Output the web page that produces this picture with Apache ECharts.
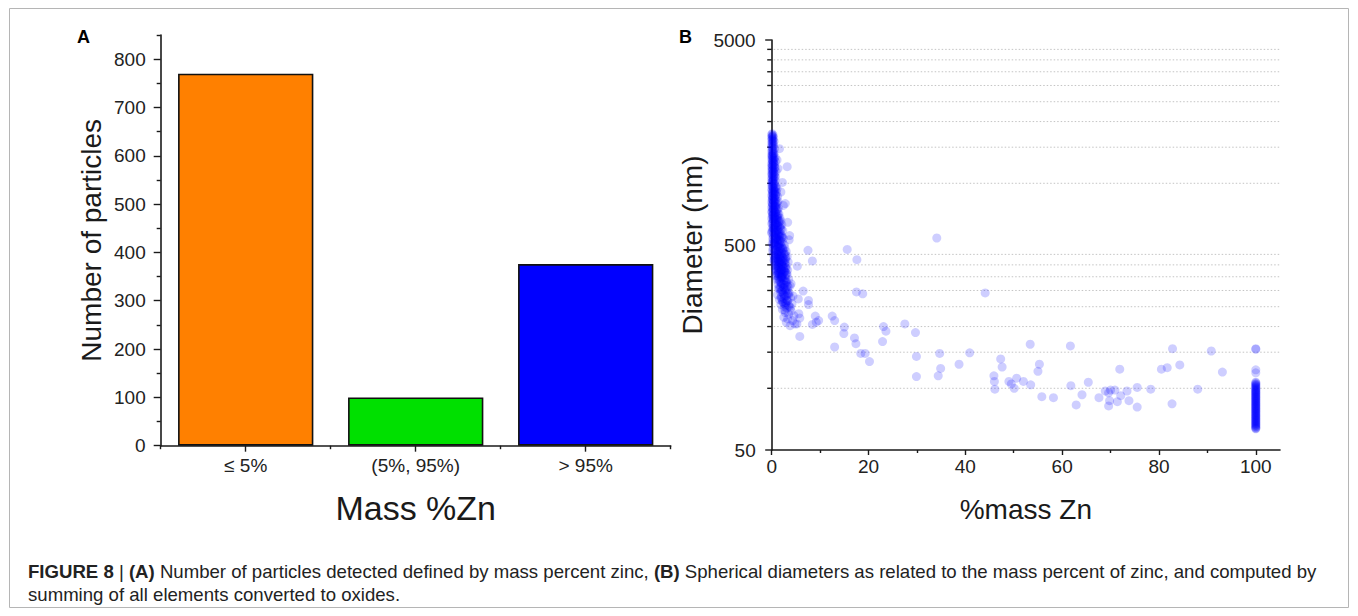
<!DOCTYPE html>
<html><head><meta charset="utf-8">
<script src="https://cdn.jsdelivr.net/npm/echarts@6/dist/echarts.min.js"></script>
<style>html,body{margin:0;padding:0;background:#fff}#c{width:1358px;height:616px}</style>
</head><body><div id="c"></div>
<script>
// ---------- data ----------
const massCategories = ['≤ 5%', '(5%, 95%)', '> 95%'];
const particleCounts = [770, 100, 376];
const countTicksMajor = [0, 100, 200, 300, 400, 500, 600, 700, 800];
const countTicksMinor = [50, 150, 250, 350, 450, 550, 650, 750, 850];
const zincTicksMajor = [0, 20, 40, 60, 80, 100];
const zincTicksMinor = [10, 30, 50, 70, 90];
const diamTicksMajor = [50, 500, 5000];
const diamTicksMinor = [100, 150, 200, 250, 300, 350, 400, 450, 1000, 1500, 2000, 2500, 3000, 3500, 4000, 4500];

// particles with <= 5 % Zn  [mass % Zn, diameter nm]
const lowZnPoints = [
[0.1,1745],[0.0,1728],[0.3,1716],[0.1,1702],[0.2,1690],[0.0,1676],[0.4,1664],[0.1,1650],[0.2,1637],[0.0,1622],[0.3,1610],[0.5,1598],[0.1,1585],[0.2,1570],[0.0,1556],[0.4,1543],[0.1,1530],[0.3,1515],[0.0,1500],[0.2,1486],[0.6,1472],[0.1,1458],[0.3,1444],[0.0,1430],[0.2,1416],[0.5,1402],
[0.1,1390],[0.4,1378],[0.0,1366],[0.2,1354],[0.7,1343],[0.1,1331],[0.3,1320],[0.0,1308],[0.5,1297],[0.2,1286],[0.8,1275],[0.1,1264],[0.4,1253],[0.0,1242],[0.6,1232],[0.2,1221],[0.3,1211],[0.0,1200],[0.7,1190],[0.1,1180],[0.5,1170],[0.2,1160],[0.0,1150],[0.9,1140],[0.3,1131],[0.1,1121],[0.6,1112],[0.0,1102],[0.4,1093],[0.2,1084],[0.8,1075],[0.1,1066],[0.5,1057],[0.0,1048],[0.3,1039],[0.7,1030],[0.2,1021],[0.0,1012],[0.4,1004],
[0.3,1395],[0.1,1360],[0.5,1326],[0.2,1292],[0.4,1259],[0.1,1226],[0.6,1195],[0.2,1165],[0.4,1136],[0.1,1108],[0.6,1080],[0.3,1052],[0.2,1026],
[0.1,996],[0.6,988],[0.3,980],[0.0,972],[0.9,964],[0.2,956],[0.5,948],[1.1,941],[0.0,933],[0.4,926],[0.7,918],[0.2,911],[1.0,904],[0.1,897],[0.5,890],[0.3,883],[0.8,876],[0.0,869],[1.2,862],[0.4,856],[0.2,849],[0.6,843],[0.9,836],[0.1,830],[0.3,824],[1.3,818],[0.5,812],[0.0,806],[0.7,800],[0.2,794],[1.0,788],[0.4,782],[0.1,777],[0.8,771],[0.6,766],[0.0,760],[1.4,755],[0.3,750],[0.9,744],[0.2,739],[0.5,734],[1.1,729],[0.0,724],[0.7,719],[0.4,714],[1.5,709],[0.2,704],
[0.5,995],[0.2,967],[0.8,952],[0.4,938],[0.1,921],[0.6,907],[0.3,893],[0.9,879],[0.2,866],[0.5,852],[0.1,839],[0.7,827],[0.4,815],[1.1,803],[0.2,791],[0.6,779],[0.9,768],[0.3,757],[1.2,747],[0.5,737],[0.1,727],[0.8,717],[1.3,707],
[0.9,699],[0.1,695],[1.3,690],[0.5,686],[0.3,681],[1.7,677],[0.0,673],[0.8,669],[1.1,665],[0.4,660],[1.9,656],[0.2,652],[0.6,648],[1.4,644],[1.0,640],[0.0,636],[0.7,632],[2.1,628],[0.3,625],[1.2,621],[0.5,617],[1.6,613],[0.9,610],[0.1,606],[1.8,602],[0.4,599],[1.3,595],[0.7,592],[2.3,588],[0.2,585],[1.0,581],[1.5,578],[0.6,575],[0.0,571],[1.9,568],[0.8,565],[1.2,561],[0.3,558],[2.0,555],[1.6,552],[0.5,549],[1.1,546],[0.9,542],[2.4,539],[0.2,536],[1.4,533],[0.7,530],[1.8,527],[0.4,524],[1.0,521],[2.2,518],[0.6,515],[1.3,512],[0.1,509],[1.7,507],[0.9,504],[2.6,501],
[0.3,697],[1.0,683],[0.6,671],[1.5,659],[0.2,641],[0.9,627],[1.8,619],[0.5,604],[1.2,589],[0.0,580],[1.6,566],[0.8,553],[2.0,544],[0.4,540],[1.1,528],[1.9,515],[0.3,506],[1.4,502],
[0.6,694],[1.2,679],[0.3,666],[1.6,650],[0.8,637],[1.3,623],[0.4,611],[2.0,597],[1.0,586],[0.5,573],[1.4,560],[2.2,548],[0.9,537],[1.7,524],[0.6,511],
[0.4,498],[1.5,495],[2.0,492],[0.8,490],[1.2,487],[2.7,484],[0.3,481],[1.8,479],[1.0,476],[2.3,473],[0.6,471],[1.5,468],[3.0,465],[1.1,463],[0.5,460],[2.1,458],[1.7,455],[0.9,453],[2.6,450],[1.3,448],[0.4,445],[2.0,443],[3.2,440],[1.0,438],[1.6,436],[0.7,433],[2.4,431],[1.2,429],[2.9,426],[0.5,424],[1.9,422],[1.4,420],[2.2,417],[0.9,415],[3.4,413],[1.7,411],[0.6,409],[2.6,407],[1.1,405],[2.0,403],[1.5,400],[3.0,398],[0.8,396],[2.3,394],[1.3,392],[1.9,390],[2.8,388],[0.7,386],[1.6,384],[2.5,382],[1.0,380],[3.3,378],[2.1,376],[1.4,374],[2.7,372],[0.9,370],[1.8,368],[2.4,366],[3.1,364],[1.2,362],[2.0,360],[1.6,358],[2.9,356],[0.8,354],[2.2,352],
[0.9,497],[1.7,486],[2.4,478],[0.2,469],[1.3,461],[2.8,452],[0.8,446],[1.8,441],[2.2,434],[1.1,427],[2.7,421],[0.5,418],[1.6,412],[2.1,404],[1.0,399],[2.5,391],[1.4,387],[2.0,379],[0.9,375],[2.8,369],[1.5,365],[2.3,359],[1.1,355],[1.9,351],
[1.2,493],[2.2,481],[0.7,474],[1.9,466],[2.5,457],[1.1,450],[1.5,442],[2.9,435],[0.6,430],[1.8,425],[2.4,419],[1.3,414],[2.8,409],[1.7,402],[2.2,396],[1.1,389],[3.0,385],[1.9,377],[2.6,371],[1.4,363],[3.2,357],[2.1,353],
[1.5,349],[2.8,346],[1.9,343],[3.5,340],[1.1,337],[2.4,334],[1.7,331],[3.1,328],[2.1,325],[1.3,322],[2.7,319],[3.8,316],[1.9,313],[2.5,310],[1.4,307],[3.2,304],[2.2,301],[2.9,298],[1.8,295],[3.6,292],[2.4,289],[1.2,286],[3.0,283],[2.0,280],[3.9,277],[2.6,274],[1.6,271],[3.3,268],[2.3,265],[2.9,262],[4.2,259],[1.9,256],[3.5,253],[2.6,250],
[2.0,347],[1.3,341],[2.6,336],[3.0,333],[1.9,327],[2.4,321],[3.4,313],[1.6,309],[2.7,303],[2.0,297],[3.3,290],[2.6,284],[1.9,277],[3.1,271],[2.2,264],[2.8,257],[3.7,251],
[2.2,345],[1.6,338],[2.9,330],[2.0,323],[3.2,317],[2.4,311],[1.7,305],[3.0,300],[2.3,293],[3.5,287],[2.7,281],[2.1,273],[3.2,266],[2.5,260],[3.0,254],
[3.1,246],[2.2,242],[4.0,238],[2.8,234],[3.5,230],[4.6,226],[2.5,222],[3.3,218],[4.3,214],[3.0,210],[4.8,206],[3.8,202],[2.7,240],[3.9,247],
[1.6,1476],[3.2,1205],[1.9,907],[2.4,780],[2.8,796],[3.3,645],[3.7,556],[3.6,530],[2.2,1010],[1.3,1180],[1.1,1300],[4.0,324],[4.4,282]
];

// particles with 5-95 % Zn
const midZnPoints = [
[34.1,541],[7.5,471],[15.6,476],[8.4,418],[17.6,424],[5.3,394],[17.5,295],[18.8,289],[44.1,292],[6.5,298],
[7.6,268],[7.6,256],[5.5,273],[5.6,231],[5.8,220],[9.0,225],[9.2,210],[8.4,205],[9.7,214],[12.5,225],
[13.0,214],[5.2,206],[5.8,179],[15.0,199],[14.9,185],[17.1,176],[17.4,165],[13.0,159],[18.4,148],[19.3,148],
[20.2,135],[22.9,169],[23.1,200],[23.6,190],[27.5,206],[29.7,187],[29.9,143],[29.9,114],[34.7,148],[34.9,125],
[34.4,115],[38.7,131],[40.9,149],[47.3,139],[47.6,127],[45.9,115],[46.0,108],[46.1,99],[49.0,108],[49.5,105],
[50.1,100],[50.6,112],[52.0,108],[53.4,164],[53.5,104],[55.3,131],[55.0,121],[55.8,91],[58.2,90],[61.7,161],
[61.8,103],[62.9,83],[64.1,93],[65.4,107],[67.6,90],[68.9,97],[69.6,95],[70.0,98],[70.9,98],[69.8,87],
[69.6,82],[71.4,86],[72.1,92],[73.4,97],[73.8,87],[71.9,124],[75.5,101],[75.5,81],[78.3,99],[80.5,124],
[81.7,126],[82.8,156],[82.7,84],[84.3,130],[88.0,99],[90.8,152],[93.1,120]
];

// particles with > 95 % Zn
const highZnPoints = [
[100,156],[100,155],[100,123],[100,119],
[100,107],[100,106.3],[100,105.1],[100,104.6],[100,103.4],[100,102.9],[100,101.8],[100,101.2],[100,100.1],[100,99.6],
[100,98.5],[100,98.1],[100,97.0],[100,96.4],[100,95.7],[100,94.9],[100,94.2],[100,93.8],[100,92.7],[100,92.1],
[100,91.5],[100,90.6],[100,90.2],[100,89.3],[100,88.8],[100,88.0],[100,87.4],[100,86.9],[100,86.0],[100,85.6],
[100,84.8],[100,84.1],[100,83.7],[100,82.9],[100,82.2],[100,81.8],[100,81.0],[100,80.4],[100,79.9],[100,79.1],
[100,78.7],[100,78.0],[100,77.4],[100,76.9],[100,76.1],[100,75.8],[100,75.0],[100,74.5],[100,73.9],[100,73.3],
[100,72.8],[100,72.2],[100,71.7],[100,71.1],[100,70.6],[100,70.0],[100,69.5],[100,68.9],[100,68.5],[100,67.8],
[100,67.4],[100,66.9],[100,66.3],[100,65.9],[100,65.3],[100,64.8],[100,64.2],[100,63.8],[100,63.4]
];

// ---------- styles ----------
const FONT = '"Liberation Sans", Arial, Helvetica, sans-serif';
const INK = '#1a1a1a';
const barColors = ['#ff8000', '#00e000', '#0000ff'];
const dotColor = 'rgba(0,0,255,0.24)';
const axisLine = { show: true, lineStyle: { color: INK, width: 1.6 } };
const tickStyle = { color: INK, width: 1.4 };

const chart = echarts.init(document.getElementById('c'), null, { renderer: 'svg' });

const diamDecor = diamTicksMajor.map(v => [0, v, 1]).concat(diamTicksMinor.map(v => [0, v, 0]));

const option = {
  animation: false,
  backgroundColor: '#fff',
  grid: [
    { left: 160.7, right: 687.3, top: 35, bottom: 170.3 },
    { left: 771.7, right: 78, top: 40, bottom: 166 }
  ],
  xAxis: [
    { gridIndex: 0, type: 'category', position: 'bottom', offset: 0, data: massCategories, boundaryGap: true,
      axisLine: axisLine,
      axisTick: { show: true, alignWithLabel: true, length: 6, lineStyle: tickStyle },
      axisLabel: { margin: 10, fontSize: 19, color: '#222', fontFamily: FONT },
      name: 'Mass %Zn', nameLocation: 'middle', nameGap: 45,
      nameTextStyle: { fontSize: 34, color: INK, fontFamily: FONT } },
    { gridIndex: 0, type: 'category', position: 'bottom', offset: 0, data: massCategories, boundaryGap: true,
      axisLine: { show: false },
      axisTick: { show: true, length: 3.5, lineStyle: tickStyle },
      axisLabel: { show: false } },
    { gridIndex: 1, type: 'value', position: 'bottom', offset: 0, min: 0, max: 105,
      axisLine: axisLine,
      axisTick: { show: true, customValues: zincTicksMajor, length: 5, lineStyle: tickStyle },
      axisLabel: { customValues: zincTicksMajor, margin: 7, fontSize: 19, color: '#222', fontFamily: FONT },
      splitLine: { show: false },
      name: '%mass Zn', nameLocation: 'middle', nameGap: 45,
      nameTextStyle: { fontSize: 28, color: INK, fontFamily: FONT } },
    { gridIndex: 1, type: 'value', position: 'bottom', offset: 0, min: 0, max: 105,
      axisLine: { show: false },
      axisTick: { show: true, customValues: zincTicksMinor, length: 3, lineStyle: tickStyle },
      axisLabel: { show: false }, splitLine: { show: false } }
  ],
  yAxis: [
    { gridIndex: 0, type: 'value', position: 'left', offset: 0, min: 0, max: 850,
      axisLine: axisLine,
      axisTick: { show: true, customValues: countTicksMajor, length: 7, lineStyle: tickStyle },
      axisLabel: { customValues: countTicksMajor, margin: 15, fontSize: 19, color: '#222', fontFamily: FONT },
      splitLine: { show: false },
      name: 'Number of particles', nameLocation: 'middle', nameGap: 55,
      nameTextStyle: { fontSize: 28, color: INK, fontFamily: FONT } },
    { gridIndex: 0, type: 'value', position: 'left', offset: 0, min: 0, max: 850,
      axisLine: { show: false },
      axisTick: { show: true, customValues: countTicksMinor, length: 4, lineStyle: tickStyle },
      axisLabel: { show: false }, splitLine: { show: false } },
    { gridIndex: 1, type: 'log', position: 'left', offset: 0, logBase: 10, min: 50, max: 5000,
      axisLine: axisLine,
      axisTick: { show: false }, axisLabel: { show: false }, splitLine: { show: false }, minorSplitLine: { show: false },
      name: 'Diameter (nm)', nameLocation: 'middle', nameGap: 65,
      nameTextStyle: { fontSize: 28, color: INK, fontFamily: FONT } }
  ],
  series: [
    { type: 'bar', xAxisIndex: 0, yAxisIndex: 0, barWidth: '79.6%',
      data: particleCounts.map((v, i) => ({ value: v, itemStyle: { color: barColors[i] } })),
      itemStyle: { borderColor: '#111', borderWidth: 1.6 }, silent: true },
    { type: 'custom', xAxisIndex: 2, yAxisIndex: 2, data: diamDecor, silent: true, z: 1, clip: false,
      encode: { x: 0, y: 1 },
      renderItem: function (params, api) {
        const v = api.value(1);
        const major = api.value(2) === 1;
        const p = api.coord([0, v]);
        const e = api.coord([105, v]);
        const children = [{
          type: 'line',
          shape: { x1: p[0] - (major ? 6.5 : 4.5), y1: p[1], x2: p[0], y2: p[1] },
          style: { stroke: INK, lineWidth: 1.4 }
        }];
        if (major) {
          children.push({
            type: 'text', x: p[0] - 16, y: p[1],
            style: { text: String(v), align: 'right', verticalAlign: 'middle', textAlign: 'right', textVerticalAlign: 'middle',
                     fontSize: 19, fontFamily: FONT, fill: '#222' }
          });
        } else {
          children.push({
            type: 'line',
            shape: { x1: p[0] + 2, y1: p[1], x2: e[0], y2: p[1] },
            style: { stroke: '#c4c4c4', lineWidth: 1, lineDash: [1.5, 2] }
          });
        }
        return { type: 'group', children: children };
      } },
    { type: 'scatter', xAxisIndex: 2, yAxisIndex: 2, data: lowZnPoints, symbolSize: 9, z: 3, silent: true,
      itemStyle: { color: dotColor } },
    { type: 'scatter', xAxisIndex: 2, yAxisIndex: 2, data: midZnPoints, symbolSize: 9, z: 3, silent: true,
      itemStyle: { color: dotColor } },
    { type: 'scatter', xAxisIndex: 2, yAxisIndex: 2, data: highZnPoints, symbolSize: 9, z: 3, silent: true,
      itemStyle: { color: dotColor } }
  ],
  graphic: [
    { type: 'rect', shape: { x: 9.5, y: 8.5, width: 1339, height: 599 }, style: { fill: 'none', stroke: '#b5b5b5', lineWidth: 1 }, silent: true },
    { type: 'text', left: 77, top: 28, style: { text: 'A', fontSize: 18, fontWeight: 'bold', fontFamily: FONT, fill: '#000' } },
    { type: 'text', left: 679, top: 28, style: { text: 'B', fontSize: 18, fontWeight: 'bold', fontFamily: FONT, fill: '#000' } },
    { type: 'text', left: 28, top: 562, style: {
        text: '{b|FIGURE 8} | {b|(A)} Number of particles detected defined by mass percent zinc, {b|(B)} Spherical diameters as related to the mass percent of zinc, and computed by',
        fontSize: 18.6, fontFamily: FONT, fill: '#222',
        rich: { b: { fontSize: 18.6, fontWeight: 'bold', fontFamily: FONT, fill: '#222' } } } },
    { type: 'text', left: 28, top: 585, style: {
        text: 'summing of all elements converted to oxides.', fontSize: 18.6, fontFamily: FONT, fill: '#222' } }
  ]
};
chart.setOption(option);
</script>
</body></html>
